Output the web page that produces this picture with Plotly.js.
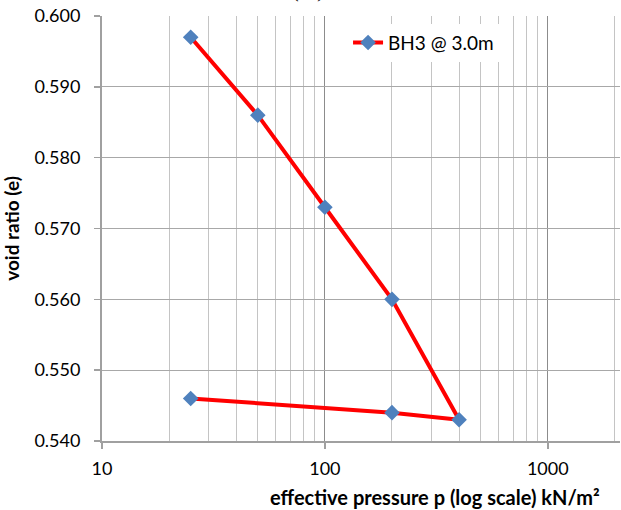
<!DOCTYPE html>
<html>
<head>
<meta charset="utf-8">
<script src="https://cdn.plot.ly/plotly-3.0.1.min.js"></script>
<style>html,body{margin:0;padding:0;background:#fff;}#chart{width:621px;height:510px;}</style>
</head>
<body>
<div id="chart"></div>
<script>
// Data
const seriesName = "BH3 @ 3.0m";
const pressure = [25, 50, 100, 200, 400, 200, 25];
const voidRatio = [0.597, 0.586, 0.573, 0.560, 0.543, 0.544, 0.546];
const majorTicks = [10, 100, 1000];
const majorTickText = ["10", "100", "1000"];
const minorTicks = [20, 30, 40, 50, 60, 70, 80, 90, 200, 300, 400, 500, 600, 700, 800, 900, 2000];
const yTicks = [0.540, 0.550, 0.560, 0.570, 0.580, 0.590, 0.600];

const FONT = "Lato, 'Open Sans', sans-serif";

const trace = {
  x: pressure,
  y: voidRatio,
  type: "scatter",
  mode: "lines+markers",
  name: seriesName,
  line: {color: "#FF0000", width: 4},
  marker: {symbol: "diamond", size: 12, color: "#4F81BD", line: {width: 0}}
};

const layout = {
  width: 621,
  height: 510,
  margin: {l: 102, r: 1, t: 16, b: 69},
  paper_bgcolor: "#ffffff",
  plot_bgcolor: "#ffffff",
  font: {family: FONT, size: 18, color: "#000"},
  showlegend: true,
  legend: {
    x: 0.475, y: 0.982, xanchor: "left", yanchor: "top",
    bgcolor: "#ffffff", borderwidth: 0,
    font: {family: FONT, size: 19, color: "#000"}
  },
  xaxis: {
    type: "log",
    range: [1, 3.324],
    tickmode: "array",
    tickvals: majorTicks,
    ticktext: majorTickText,
    ticks: "outside", ticklen: 6, tickcolor: "#a0a0a0", tickwidth: 1.5,
    ticklabelstandoff: 4,
    showgrid: true, gridcolor: "#8c8c8c", gridwidth: 1,
    minor: {tickmode: "array", tickvals: minorTicks, showgrid: true, gridcolor: "#c4c4c4", gridwidth: 1, ticks: ""},
    showline: true, linecolor: "#a0a0a0", linewidth: 2,
    zeroline: false,
    tickfont: {family: FONT, size: 18, color: "#000"}
  },
  yaxis: {
    range: [0.540, 0.600],
    tickmode: "array",
    tickvals: yTicks,
    tickformat: ".3f",
    ticks: "outside", ticklen: 6, tickcolor: "#a0a0a0", tickwidth: 1.5,
    ticklabelstandoff: 10,
    showgrid: true, gridcolor: "#a8a8a8", gridwidth: 1,
    showline: true, linecolor: "#a0a0a0", linewidth: 2,
    zeroline: false,
    tickfont: {family: FONT, size: 18, color: "#000"},
    title: {text: "<b>void ratio (e)</b>", font: {family: FONT, size: 19, color: "#000"}, standoff: 10}
  },
  annotations: [
    {
      text: "<b>effective pressure p (log scale) kN/m²</b>",
      xref: "paper", yref: "paper", x: 0.643, y: -0.132,
      xanchor: "center", yanchor: "middle", showarrow: false,
      font: {family: FONT, size: 20, color: "#000"}
    },
    {
      text: "<i>(%)</i>",
      xref: "paper", yref: "paper", x: 0.40, y: 1.028,
      xanchor: "center", yanchor: "bottom", showarrow: false,
      font: {family: "'Liberation Serif', serif", size: 22, color: "#000"}
    }
  ]
};

Plotly.newPlot("chart", [trace], layout, {displayModeBar: false, staticPlot: true});
</script>
</body>
</html>
